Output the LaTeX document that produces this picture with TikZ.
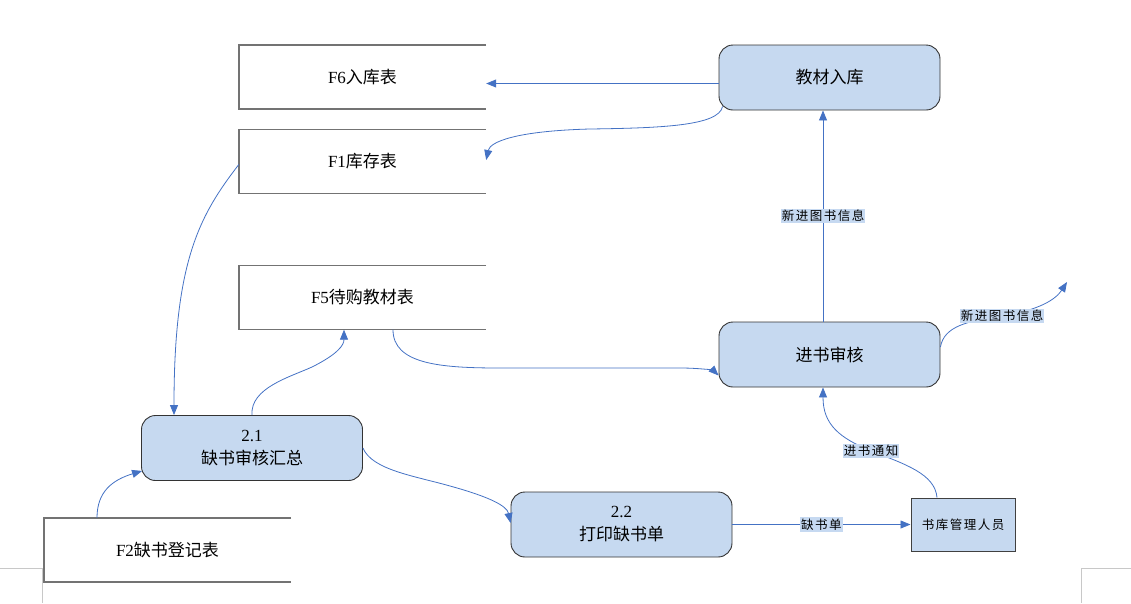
\documentclass[tikz,border=0pt]{standalone}
\usepackage{fontspec}
\setmainfont{Liberation Serif}
\newfontfamily\cjk{Noto Sans CJK SC}
\newfontfamily\lblfont[LetterSpace=12]{Noto Sans CJK SC}
\usetikzlibrary{arrows.meta,calc}
\definecolor{procfill}{HTML}{C6D9F0}
\definecolor{lblfill}{HTML}{C6D9F1}
\definecolor{flow}{HTML}{4472C4}
\definecolor{storeline}{HTML}{737373}
\definecolor{pagemark}{HTML}{C8C8C8}
\tikzset{
  proc/.style={draw=black!80,line width=0.9pt,fill=procfill,rounded corners=14pt,
    minimum width=221pt,minimum height=65pt,inner sep=0pt,align=center,
    font=\fontsize{17}{23}\selectfont},
  store/.style={minimum width=247pt,minimum height=64pt,inner sep=0pt,
    font=\fontsize{17}{23}\selectfont},
  storeedge/.style={draw=storeline,line width=1.5pt},
  agent/.style={draw=black!75,line width=1pt,fill=procfill,minimum width=104pt,
    minimum height=53pt,inner sep=0pt,font=\fontsize{12.5}{15}\selectfont\lblfont},
  flowline/.style={draw=flow,line width=0.8pt,-{Triangle[length=10pt,width=8pt]}},
  lbl/.style={fill=lblfill,inner xsep=1pt,inner ysep=1.5pt,
    font=\fontsize{12.5}{15}\selectfont\lblfont,text=black},
  pgmark/.style={draw=pagemark,line width=0.8pt}
}
\begin{document}
\begin{tikzpicture}[x=1pt,y=-1pt]
\useasboundingbox (0,0) rectangle (1131,603);
% page corner marks
\draw[pgmark] (0,568) -- (42.7,568) -- (42.7,603);
\draw[pgmark] (1131,568) -- (1081,568) -- (1081,603);
% data stores
\node[store] (f6) at (362.5,77) {F6{\cjk 入库表}};
\node[store] (f1) at (362.5,161.5) {F1{\cjk 库存表}};
\node[store] (f5) at (362.5,297.5) {F5{\cjk 待购教材表}};
\node[store] (f2) at (167.5,550) {F2{\cjk 缺书登记表}};
\foreach \s in {f6,f1,f5,f2}{
  \draw[storeedge] (\s.north east) -- (\s.north west) -- (\s.south west) -- (\s.south east);
}
% processes
\node[proc] (jcrk) at (829.5,77.5) {\cjk 教材入库};
\node[proc] (jssh) at (829.5,354.5) {\cjk 进书审核};
\node[proc] (p21) at (252,448) {2.1\\{\cjk 缺书审核汇总}};
\node[proc] (p22) at (621.5,524.5) {2.2\\{\cjk 打印缺书单}};
\node[agent] (skgl) at (963,524.5) {书库管理人员};
\coordinate (ext) at (1067,282);
% flows
\draw[flowline] ([yshift=-6pt]jcrk.west) -- ([yshift=-6pt]jcrk.west -| f6.east);
\draw[flowline] ([shift={(4pt,4pt)}]jcrk.south west)
   .. controls (719,126) and (660,128) .. (590,129)
   .. controls (515,131) and (490,142) .. ([yshift=1.5pt]f1.east);
\draw[flowline] ([yshift=-3pt]f1.west)
   .. controls (200,215) and (174,260) .. ([xshift=-78pt]p21.north);
\draw[flowline] (p21.north)
   .. controls (250,388) and (290,377) .. (312,367)
   .. controls (338,354) and (344,345) .. ([xshift=-18.5pt]f5.south);
\draw[flowline] ([xshift=30.5pt]f5.south)
   .. controls (393,364) and (440,368) .. (500,368)
   -- (680,368)
   .. controls (703,368) and (714,371) .. ([yshift=-21pt]jssh.west);
\draw[flowline] (p21.east)
   .. controls (372,470) and (415,476) .. (450,486)
   .. controls (490,497) and (507,506) .. ([yshift=1.5pt]p22.west);
\draw[flowline] ([xshift=-70.5pt]f2.north)
   .. controls (97,492) and (112,480) .. ([shift={(1pt,10pt)}]p21.south west);
\draw[flowline] (p22.east) -- node[lbl]{缺书单} (skgl.west);
\draw[flowline] ([xshift=-26pt]skgl.north)
   .. controls (935,474) and (905,464) .. (871,451) node[lbl]{进书通知}
   .. controls (840,438) and (823,425) .. ([xshift=-6.5pt]jssh.south);
\draw[flowline] ([xshift=-6.5pt]jssh.north) -- node[lbl]{新进图书信息} ([xshift=-6.5pt]jcrk.south);
\draw[flowline] ([yshift=7.5pt]jssh.east)
   .. controls (944,326) and (968,321) .. (1002,316) node[lbl]{新进图书信息}
   .. controls (1040,310) and (1056,299) .. (ext);
\end{tikzpicture}
\end{document}
